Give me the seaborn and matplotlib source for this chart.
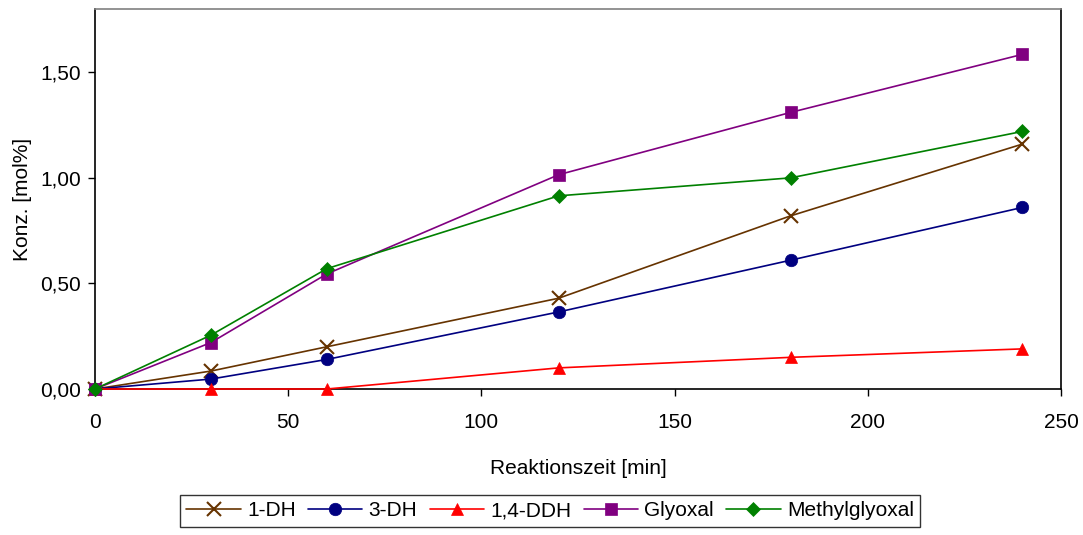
import matplotlib
matplotlib.use("Agg")
import matplotlib.pyplot as plt
import seaborn as sns
import pandas as pd
from matplotlib.ticker import FuncFormatter

sns.set_theme(style="white")
plt.rcParams['font.family'] = ['Liberation Sans', 'DejaVu Sans']
plt.rcParams['text.color'] = 'black'
plt.rcParams['axes.labelcolor'] = 'black'
plt.rcParams['xtick.color'] = 'black'
plt.rcParams['ytick.color'] = 'black'

time_min = [0, 30, 60, 120, 180, 240]
dh1 = [0.0, 0.085, 0.20, 0.43, 0.82, 1.16]
dh3 = [0.0, 0.047, 0.14, 0.365, 0.61, 0.86]
ddh14 = [0.0, 0.0, 0.0, 0.10, 0.15, 0.19]
glyoxal = [0.0, 0.22, 0.545, 1.015, 1.31, 1.585]
methylglyoxal = [0.0, 0.255, 0.57, 0.915, 1.0, 1.22]

series_names = ["1-DH", "3-DH", "1,4-DDH", "Glyoxal", "Methylglyoxal"]
series_vals = [dh1, dh3, ddh14, glyoxal, methylglyoxal]
colors = ["#663300", "#000080", "#FF0000", "#800080", "#008000"]
markers = ["x", "o", "^", "s", "D"]
msizes = [10, 9, 9, 9, 7]

fig = plt.figure(figsize=(10.83, 5.35), dpi=100)
ax = fig.add_axes([0.0877, 0.2729, 0.892, 0.7103])

for name, vals, c, m, ms in zip(series_names, series_vals, colors, markers, msizes):
    df = pd.DataFrame({"t": time_min, "v": vals})
    sns.lineplot(data=df, x="t", y="v", ax=ax, color=c, marker=m, markersize=ms,
                 markeredgecolor=c, markeredgewidth=1.5 if m == "x" else 0.5,
                 linewidth=1.2, label=name, clip_on=False, zorder=3)

ax.set_xlim(0, 250)
ax.set_ylim(0, 1.8)
ax.set_xticks([0, 50, 100, 150, 200, 250])
ax.set_yticks([0, 0.5, 1.0, 1.5])
ax.yaxis.set_major_formatter(FuncFormatter(lambda v, p: f"{v:.2f}".replace(".", ",")))
ax.tick_params(axis="y", direction="out", length=5, width=1, labelsize=15, pad=5, left=True)
ax.tick_params(axis="x", direction="out", length=5, width=1, labelsize=15, pad=12, bottom=True)
ax.set_xlabel("Reaktionszeit [min]", fontsize=15, labelpad=20)
ax.set_ylabel("Konz. [mol%]", fontsize=15, labelpad=6)

for s in ["left", "bottom", "right"]:
    ax.spines[s].set_color("black")
    ax.spines[s].set_linewidth(1.2)
ax.spines["top"].set_color("#808080")
ax.spines["top"].set_linewidth(1.2)
ax.grid(False)

leg = ax.legend(loc="center", bbox_to_anchor=(0.508, 0.045), bbox_transform=fig.transFigure,
                ncol=5, frameon=True, fancybox=False, fontsize=15, handlelength=2.6,
                columnspacing=0.6, handletextpad=0.3, borderpad=0.3)
leg.get_frame().set_edgecolor("black")
leg.get_frame().set_linewidth(1.0)

fig.savefig("out.png", dpi=100)
